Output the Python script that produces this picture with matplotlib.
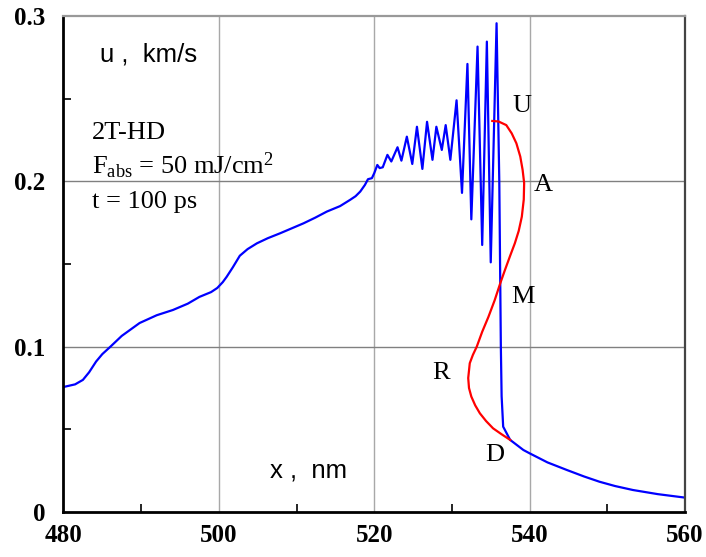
import matplotlib
matplotlib.use("Agg")
import matplotlib.pyplot as plt
from matplotlib.ticker import MultipleLocator, FixedLocator

# velocity profile u(x), blue curve
blue_x = [480.0, 481.5, 482.5, 483.3, 484.2, 485.0, 486.0, 487.5, 489.8, 492.0,
          494.1, 496.0, 497.5, 499.0, 499.8, 500.5, 501.0, 501.8, 502.7, 503.7,
          504.9, 506.3, 507.9, 509.4, 510.9, 512.4, 513.9, 515.6, 516.9, 517.6,
          518.2, 518.8, 519.2, 519.7, 520.0,
          520.4, 520.7, 521.1, 521.7, 522.2, 523.0, 523.5, 524.2, 524.9, 525.5,
          526.2, 526.8, 527.5, 528.0, 528.7, 529.2, 529.8, 530.6, 531.3, 532.0,
          532.5, 533.3, 533.9, 534.5, 535.0, 535.75, 536.1, 536.2, 536.3, 536.4,
          536.6, 537.5, 539.2, 540.0, 542.3, 544.8, 547.0, 549.0, 551.0, 553.3,
          556.5, 560.0]
blue_u = [0.0756, 0.0772, 0.0799, 0.0845, 0.091, 0.0955, 0.0998, 0.1065, 0.1143, 0.1190,
          0.1222, 0.126, 0.1301, 0.1330, 0.1355, 0.139, 0.1422, 0.148, 0.155, 0.159,
          0.1625, 0.1656, 0.1686, 0.1716, 0.1746, 0.178, 0.1817, 0.185, 0.1888, 0.191,
          0.1938, 0.1978, 0.2013, 0.2019, 0.2049,
          0.2099, 0.208, 0.2085, 0.216, 0.212, 0.2206, 0.2125, 0.227, 0.2105, 0.233,
          0.2075, 0.236, 0.213, 0.233, 0.219, 0.234, 0.213, 0.249, 0.193, 0.271,
          0.177, 0.2815, 0.1615, 0.2845, 0.151, 0.2956, 0.2, 0.15, 0.1, 0.07,
          0.0516, 0.0436, 0.0375, 0.0355, 0.0300, 0.0254, 0.0215, 0.0183, 0.0157, 0.0133,
          0.0108, 0.0087]

# red curve U-A-M-R-D
red_x = [535.2, 536.0, 537.0, 537.7, 538.3, 538.8, 539.1, 539.3, 539.25, 539.0,
         538.6, 538.1, 537.5, 536.8, 536.2, 535.5, 534.7, 533.9, 533.2, 532.7,
         532.3, 532.1, 532.2, 532.5, 533.0, 533.6, 534.4, 535.3, 536.4, 537.5]
red_u = [0.2365, 0.2362, 0.234, 0.229, 0.223, 0.215, 0.207, 0.199, 0.189, 0.1786,
         0.170, 0.1625, 0.155, 0.146, 0.138, 0.128, 0.118, 0.109, 0.100, 0.095,
         0.090, 0.081, 0.075, 0.0698, 0.0645, 0.0597, 0.055, 0.0506, 0.047, 0.0436]

point_labels = ["U", "A", "M", "R", "D"]
point_x = [539.0, 541.8, 539.1, 528.6, 535.5]
point_u = [0.2456, 0.198, 0.130, 0.084, 0.0345]

x_ticks = [480, 500, 520, 540, 560]
y_ticks = [0, 0.1, 0.2, 0.3]
y_tick_labels = ["0", "0.1", "0.2", "0.3"]

serif = ["Liberation Serif", "DejaVu Serif"]
plt.rcParams["mathtext.fontset"] = "custom"
plt.rcParams["mathtext.rm"] = "Liberation Serif"
plt.rcParams["mathtext.it"] = "Liberation Serif:italic"

fig = plt.figure(figsize=(7.06, 5.57), dpi=100)
ax = fig.add_axes([0.0899, 0.0808, 0.8803, 0.8905])

ax.plot(blue_x, blue_u, color="#0000ff", lw=1.6)
ax.plot(red_x, red_u, color="#ff0000", lw=1.6)

ax.set_xlim(480, 560)
ax.set_ylim(0, 0.3)

ax.xaxis.set_major_locator(FixedLocator(x_ticks))
ax.xaxis.set_minor_locator(MultipleLocator(10))
ax.set_yticks(y_ticks)
ax.set_yticklabels(y_tick_labels)
ax.yaxis.set_minor_locator(MultipleLocator(0.05))

ax.tick_params(which="major", length=0, pad=13)
ax.tick_params(which="minor", direction="in", length=6, width=1.2, color="black")
ax.tick_params(axis="x", which="major", pad=9)
for lab in ax.get_xticklabels() + ax.get_yticklabels():
    lab.set_family(serif)
    lab.set_fontweight("bold")
    lab.set_fontsize(18)

for v in [500, 520, 540]:
    ax.axvline(v, color="#a8a8a8", lw=1.0, zorder=0)
for v in [0.1, 0.2]:
    ax.axhline(v, color="#808080", lw=1.0, zorder=0)

ax.spines["left"].set_linewidth(2.0)
ax.spines["bottom"].set_linewidth(2.0)
ax.spines["top"].set_color("#999999")
ax.spines["top"].set_linewidth(1.6)
ax.spines["right"].set_color("#444444")
ax.spines["right"].set_linewidth(1.6)

ax.text(484.7, 0.2724, "u ,  km/s", family=["Liberation Sans", "DejaVu Sans"],
        fontsize=18.5, va="baseline")
ax.text(506.6, 0.0206, "x ,  nm", family=["Liberation Sans", "DejaVu Sans"],
        fontsize=18.5, va="baseline")

ax.text(483.65, 0.2255, "2T-HD", family=serif, fontsize=19, va="baseline")
ax.text(483.65, 0.2045, r"F$_{\rm abs}$ = 50 mJ/cm$^2$", family=serif, fontsize=19, va="baseline")
ax.text(483.65, 0.1837, "t = 100 ps", family=serif, fontsize=19, va="baseline")

for lab, px, pu in zip(point_labels, point_x, point_u):
    ax.text(px, pu, lab, family=serif, fontsize=19, ha="center", va="center")

fig.savefig("out.png", dpi=100)
